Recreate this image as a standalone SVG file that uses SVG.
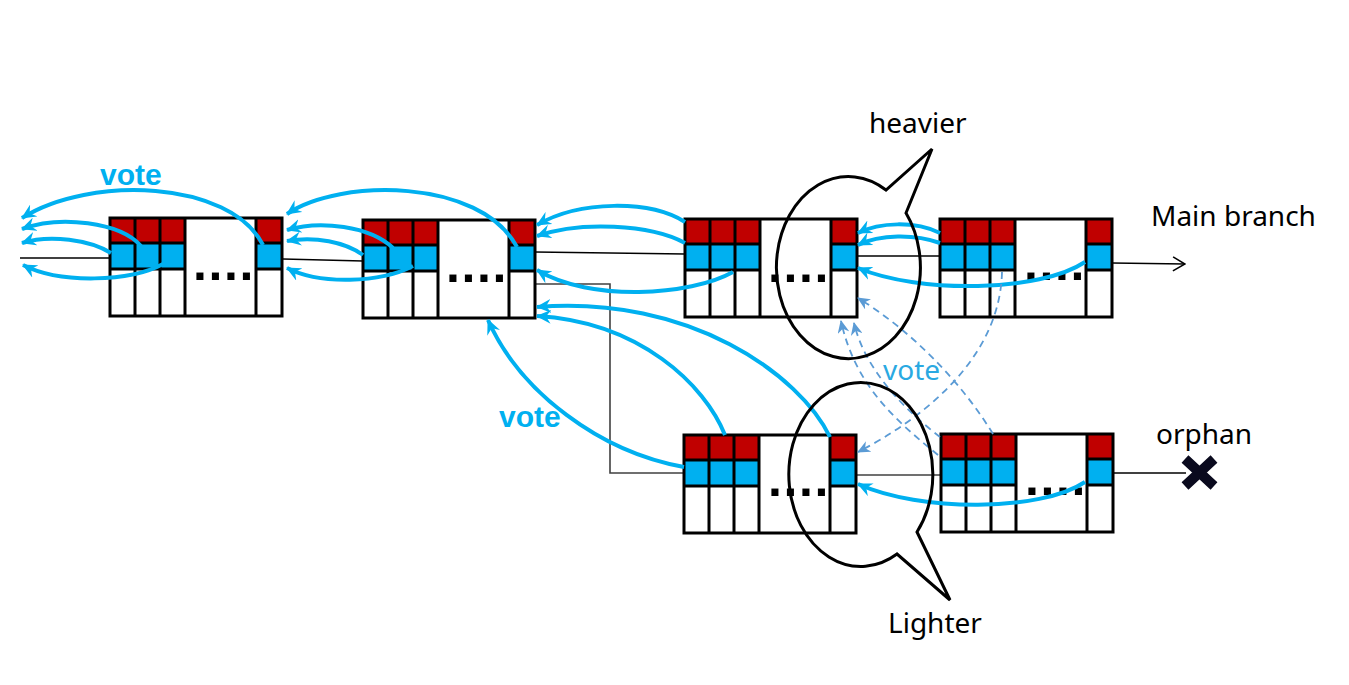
<svg xmlns="http://www.w3.org/2000/svg" xmlns:xlink="http://www.w3.org/1999/xlink" width="1349" height="685" viewBox="0 0 1349 685">
<style>
.red{fill:#C00000}
.blu{fill:#00B0F0}
.cell{fill:none;stroke:#000;stroke-width:3}
.dots{font-family:"Liberation Sans",Arial,sans-serif;font-weight:bold;font-size:50px;letter-spacing:1.6px;fill:#000}
.thin{fill:none;stroke:#000;stroke-width:1.6}
.grey{fill:none;stroke:#404040;stroke-width:1.6}
.arc{fill:none;stroke:#00B0F0;stroke-width:4;marker-end:url(#ah)}
.dash{fill:none;stroke:#5B9BD5;stroke-width:1.8;stroke-dasharray:7,5;marker-end:url(#ahd)}
.callout{fill:none;stroke:#000;stroke-width:3;stroke-linejoin:miter}
.lbl{font-family:"Noto Sans","Open Sans",sans-serif;font-size:28px;fill:#000}
.voteb{font-family:"Liberation Sans",Arial,sans-serif;font-weight:bold;font-size:30px;fill:#00B0F0}
.vote{font-family:"Noto Sans","Open Sans",sans-serif;font-size:28px;fill:#2AA9E2}
</style>
<defs>
<marker id="ah" markerUnits="userSpaceOnUse" markerWidth="16" markerHeight="14" refX="14" refY="7" orient="auto">
<path d="M0,0 L15,7 L0,14 L5,7 Z" fill="#00B0F0"/>
</marker>
<marker id="ahd" markerUnits="userSpaceOnUse" markerWidth="14" markerHeight="12" refX="12" refY="6" orient="auto">
<path d="M0,0 L13,6 L0,12 L4,6 Z" fill="#5B9BD5"/>
</marker>
<marker id="open" markerUnits="userSpaceOnUse" markerWidth="14" markerHeight="16" refX="13" refY="8" orient="auto">
<path d="M1,1 L13,8 L1,15" fill="none" stroke="#000" stroke-width="1.6"/>
</marker>
<g id="blk">
<rect class="red" x="0" y="0" width="25" height="25"/>
<rect class="red" x="25" y="0" width="25" height="25"/>
<rect class="red" x="50" y="0" width="25" height="25"/>
<rect class="red" x="146" y="0" width="26" height="25"/>
<rect class="blu" x="0" y="25" width="25" height="26"/>
<rect class="blu" x="25" y="25" width="25" height="26"/>
<rect class="blu" x="50" y="25" width="25" height="26"/>
<rect class="blu" x="146" y="25" width="26" height="26"/>
<path class="cell" d="M25,0 V98 M50,0 V98 M75,0 V98 M146,0 V98 M0,25 H75 M0,51 H75 M146,25 H172 M146,51 H172"/>
<rect class="cell" x="0" y="0" width="172" height="98"/>
</g>
</defs>
<rect width="1349" height="685" fill="#fff"/>

<g id="links">
<path class="thin" d="M20,258 H110"/>
<path class="thin" d="M283,259 L363,261"/>
<path class="thin" d="M535,252 L685,254"/>
<path class="thin" d="M857,256 H940"/>
<path class="thin" d="M1112,263 L1185,264" marker-end="url(#open)"/>
<path class="grey" d="M535,284 H610 V473 H684"/>
<path class="grey" d="M856,475 H941"/>
<path class="thin" d="M1112,473 H1186"/>
</g>

<g id="block1" transform="translate(110,218)"><use xlink:href="#blk"/><text class="dots" x="83" y="62">....</text></g>
<g id="block2" transform="translate(363,220)"><use xlink:href="#blk"/><text class="dots" x="83" y="62">....</text></g>
<g id="block3" transform="translate(685,219)"><use xlink:href="#blk"/><text class="dots" x="83" y="63">....</text></g>
<g id="block4" transform="translate(940,219)"><use xlink:href="#blk"/><text class="dots" x="84" y="61">....</text></g>
<g id="block5" transform="translate(684,435)"><use xlink:href="#blk"/><text class="dots" x="84" y="61">....</text></g>
<g id="block6" transform="translate(941,434)"><use xlink:href="#blk"/><text class="dots" x="84" y="61">....</text></g>

<g id="votes">
<path class="arc" d="M263,245 C230,180 90,175 22,218"/>
<path class="arc" d="M141,246 C120,222 60,215 22,229"/>
<path class="arc" d="M111,253 C90,240 50,234 22,243"/>
<path class="arc" d="M163,264 C130,282 60,284 23,265"/>

<path class="arc" d="M517,247 C480,178 340,178 287,214"/>
<path class="arc" d="M393,248 C370,226 320,220 287,230"/>
<path class="arc" d="M363,255 C345,242 315,236 287,241"/>
<path class="arc" d="M413,266 C380,283 320,285 287,268"/>

<path class="arc" d="M685,222 C650,200 580,200 537,225"/>
<path class="arc" d="M685,243 C650,224 580,221 537,236"/>
<path class="arc" d="M733,272 C690,296 590,302 537,270"/>

<path class="arc" d="M940,233 C915,221 880,222 858,233"/>
<path class="arc" d="M940,243 C915,234 880,234 858,245"/>
<path class="arc" d="M1085,262 C1040,292 920,294 858,268"/>

<path class="arc" d="M830,437 C800,375 690,295 537,307"/>
<path class="arc" d="M725,435 C705,385 640,322 537,316"/>
<path class="arc" d="M684,467 C600,452 520,392 488,320"/>

<path class="arc" d="M1085,482 C1040,512 920,512 858,484"/>

<path class="dash" d="M993,434 C960,380 910,330 858,298"/>
<path class="dash" d="M938,455 C895,420 855,385 841,321"/>
<path class="dash" d="M940,437 C905,410 865,370 854,323"/>
<path class="dash" d="M1002,272 C1000,360 920,420 858,452"/>
</g>

<g id="heavier">
<path class="callout" d="M906,213 A72,91 0 1 1 886,190 L932,149 Z"/>
<text class="lbl" x="869" y="133">heavier</text>
</g>
<g id="lighter">
<path class="callout" d="M917,532 A72,92 0 1 0 897,554 L950,600 Z"/>
<text class="lbl" x="888" y="633">Lighter</text>
</g>
<g id="mainbranch"><text class="lbl" x="1151" y="226">Main branch</text></g>
<g id="orphan">
<text class="lbl" x="1156" y="444">orphan</text>
<path d="M1185,459 L1214,486 M1214,459 L1185,486" stroke="#0A0A1E" stroke-width="10" stroke-linecap="butt"/>
</g>
<g id="labels">
<text class="voteb" x="100" y="185">vote</text>
<text class="voteb" x="499" y="427">vote</text>
<text class="vote" x="883" y="380">vote</text>
</g>
</svg>
